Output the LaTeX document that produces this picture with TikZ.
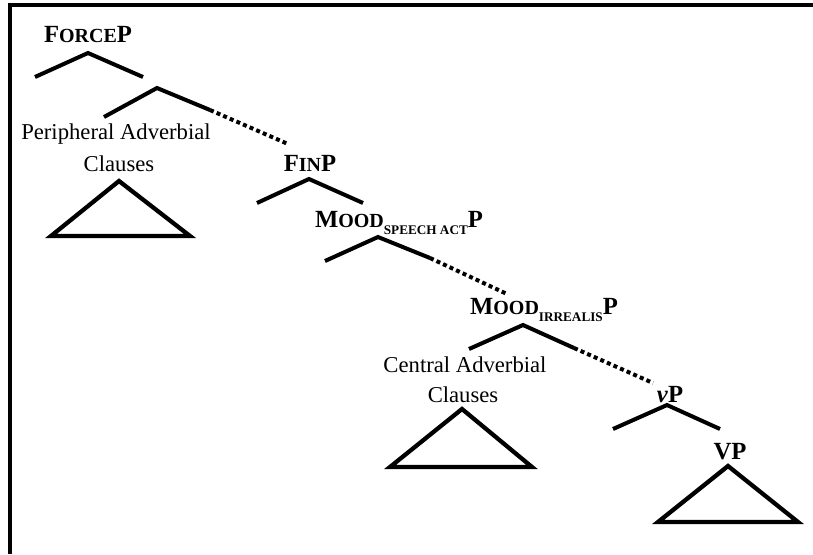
\documentclass[tikz,border=0pt]{standalone}
\usepackage{fontspec}
\setmainfont{Liberation Serif}
\newcommand\scc[1]{{\fontsize{15}{17}\selectfont #1}}
\newcommand\subsc[1]{\raisebox{-0.3em}{\fontsize{9.9}{12}\selectfont #1}}
\begin{document}
\begin{tikzpicture}[x=0.75pt,y=-0.75pt,
  branch/.style={line width=3pt,line cap=butt},
  dots/.style={line width=3pt,dash pattern=on 3pt off 2.4pt},
  tri/.style={line width=3.2pt,line join=miter},
  cat/.style={font=\fontsize{18.5}{21}\selectfont\bfseries,inner sep=0pt},
  phrase/.style={font=\fontsize{17}{20}\selectfont,inner sep=0pt,align=center},
  frame/.style={line width=2.4pt}]
\useasboundingbox (0,0) rectangle (813,554);
% frame
\coordinate (frBL) at (10,554);
\coordinate (frTL) at (10,5);
\coordinate (frTR) at (813,5);
\draw[frame] (frBL) -- (frTL) -- (frTR);
% ForceP
\node[cat] (force) at (88,35) {F\scc{ORCE}P};
\coordinate (fA) at (88,53);
\coordinate (fL) at (35,77);
\coordinate (fR) at (143,77);
\draw[branch] (fL) -- (fA) -- (fR);
% intermediate
\coordinate (pA) at (157,88);
\coordinate (pL) at (104,117);
\coordinate (pR) at (210,110);
\coordinate (pD) at (288,144);
\draw[branch] (pL) -- (pA) -- (pR);
\draw[dots] (pR) -- (pD);
% peripheral adverbial clauses
\node[phrase] (periph) at (116,134) {Peripheral Adverbial};
\node[phrase] (periph2) at (119,164) {Clauses};
\coordinate (t1a) at (119,181);
\coordinate (t1l) at (51,236);
\coordinate (t1r) at (190,236);
\draw[tri] (t1a) -- (t1l) -- (t1r) -- cycle;
% FinP
\node[cat] (fin) at (310,163) {F\scc{IN}P};
\coordinate (nA) at (309,179);
\coordinate (nL) at (257,203);
\coordinate (nR) at (363,203);
\draw[branch] (nL) -- (nA) -- (nR);
% Mood speech act P
\node[cat] (moodsa) at (399,223) {M\scc{OOD}\subsc{SPEECH ACT}P};
\coordinate (mA) at (378,237);
\coordinate (mL) at (325,261);
\coordinate (mR) at (430,258);
\coordinate (mD) at (507,294);
\draw[branch] (mL) -- (mA) -- (mR);
\draw[dots] (mR) -- (mD);
% Mood irrealis P
\node[cat] (moodir) at (544,310) {M\scc{OOD}\subsc{IRREALIS}P};
\coordinate (iA) at (523,325);
\coordinate (iL) at (469,349);
\coordinate (iR) at (574,348);
\coordinate (iD) at (653,383);
\draw[branch] (iL) -- (iA) -- (iR);
\draw[dots] (iR) -- (iD);
% central adverbial clauses
\node[phrase] (central) at (465,365) {Central Adverbial};
\node[phrase] (central2) at (463,395) {Clauses};
\coordinate (t2a) at (462,409);
\coordinate (t2l) at (390,467);
\coordinate (t2r) at (532,467);
\draw[tri] (t2a) -- (t2l) -- (t2r) -- cycle;
% vP
\node[cat] (vp) at (670,395) {\textit{v}P};
\coordinate (vA) at (667,405);
\coordinate (vL) at (613,429);
\coordinate (vR) at (720,429);
\draw[branch] (vL) -- (vA) -- (vR);
% VP
\node[cat] (VP) at (730,452) {VP};
\coordinate (t3a) at (728,466);
\coordinate (t3l) at (658,522);
\coordinate (t3r) at (798,522);
\draw[tri] (t3a) -- (t3l) -- (t3r) -- cycle;
\end{tikzpicture}
\end{document}
